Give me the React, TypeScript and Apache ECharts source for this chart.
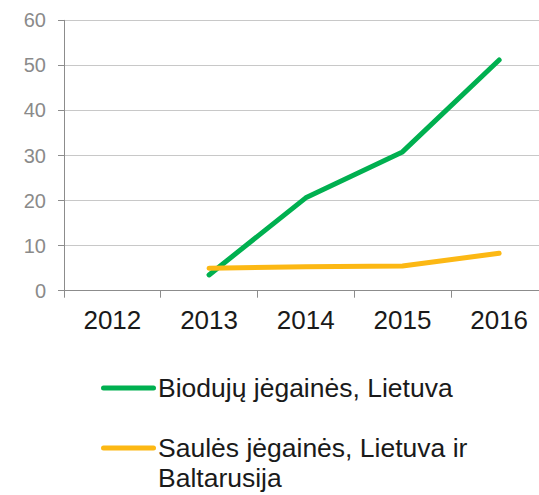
import React, { useEffect, useRef } from "react";
import * as echarts from "echarts";

const categories = ["2012", "2013", "2014", "2015", "2016"];
const biogasValues = [null, 3.5, 20.6, 30.8, 51.2];
const solarValues = [null, 5.0, 5.3, 5.5, 8.3];
const seriesNames = ["Biodujų jėgainės, Lietuva", "Saulės jėgainės, Lietuva ir\nBaltarusija"];
const colors = ["#00b050", "#fcb814"];

const FONT = "'Liberation Sans', Arial, sans-serif";

export default function App() {
  const ref = useRef<HTMLDivElement>(null);
  useEffect(() => {
    if (!ref.current) return;
    const chart = echarts.init(ref.current, null, { renderer: "svg" });
    chart.setOption({
      animation: false,
      backgroundColor: "#ffffff",
      grid: {
        left: 64,
        top: 20.3,
        width: 483.5,
        height: 270.4,
        containLabel: false,
        outerBoundsMode: "none",
      },
      xAxis: {
        type: "category",
        data: categories,
        boundaryGap: true,
        axisLine: { lineStyle: { color: "#8c8c8c", width: 1 } },
        axisTick: { show: true, length: 7, alignWithLabel: false, lineStyle: { color: "#8c8c8c" } },
        axisLabel: { color: "#1a1a1a", fontSize: 26, fontFamily: FONT, margin: 16, interval: 0 },
        splitLine: { show: false },
      },
      yAxis: {
        type: "value",
        min: 0,
        max: 60,
        interval: 10,
        axisLine: { show: true, lineStyle: { color: "#8c8c8c", width: 1 } },
        axisTick: { show: true, length: 6, lineStyle: { color: "#8c8c8c" } },
        axisLabel: { color: "#8a8a8a", fontSize: 20, fontFamily: FONT, margin: 18 },
        splitLine: { show: true, lineStyle: { color: "#c8c8c8", width: 1 } },
      },
      series: [
        {
          name: seriesNames[0],
          type: "line",
          data: biogasValues,
          showSymbol: false,
          symbol: "none",
          lineStyle: { color: colors[0], width: 5, cap: "round", join: "round" },
          itemStyle: { color: colors[0] },
        },
        {
          name: seriesNames[1],
          type: "line",
          data: solarValues,
          showSymbol: false,
          symbol: "none",
          lineStyle: { color: colors[1], width: 5, cap: "round", join: "round" },
          itemStyle: { color: colors[1] },
        },
      ],
      graphic: [
        {
          type: "line",
          shape: { x1: 103.5, y1: 388, x2: 153.5, y2: 388 },
          style: { stroke: colors[0], lineWidth: 5, lineCap: "round" },
        },
        {
          type: "text",
          x: 158,
          y: 388,
          style: {
            text: seriesNames[0],
            fontSize: 26.5,
            fontFamily: FONT,
            fill: "#1a1a1a",
            verticalAlign: "middle",
            align: "left",
          },
        },
        {
          type: "line",
          shape: { x1: 103.5, y1: 448, x2: 153.5, y2: 448 },
          style: { stroke: colors[1], lineWidth: 5, lineCap: "round" },
        },
        {
          type: "text",
          x: 158,
          y: 433,
          style: {
            text: seriesNames[1],
            fontSize: 26.5,
            lineHeight: 30,
            fontFamily: FONT,
            fill: "#1a1a1a",
            verticalAlign: "top",
            align: "left",
          },
        },
      ],
    });
    return () => chart.dispose();
  }, []);
  return (
    <div
      ref={ref}
      style={{ position: "absolute", left: 0, top: 0, width: 539, height: 495 }}
    />
  );
}
